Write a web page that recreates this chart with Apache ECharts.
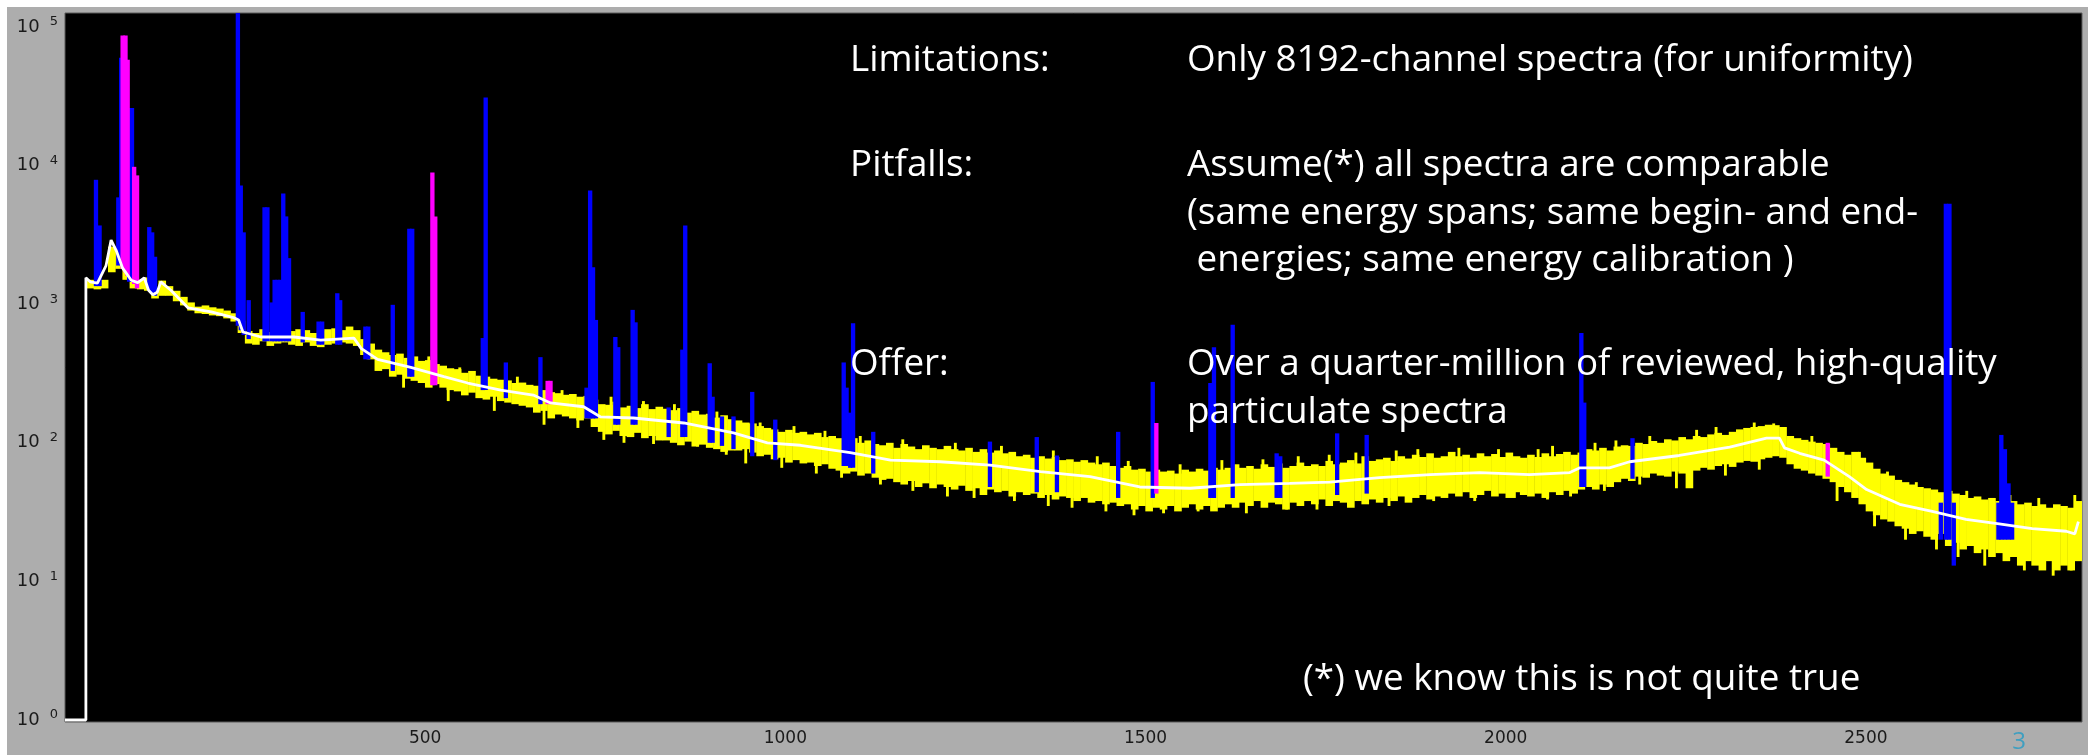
<!DOCTYPE html>
<html><head><meta charset="utf-8">
<script src="https://cdn.jsdelivr.net/npm/echarts@6/dist/echarts.min.js"></script>
<style>
html,body{margin:0;padding:0;background:#fff;width:2093px;height:755px;overflow:hidden}
#panel{position:absolute;left:7px;top:7px;width:2081px;height:748px;background:#adadad}
#chart{position:absolute;left:0;top:0;width:2093px;height:755px}
</style></head><body>
<div id="panel"></div><div id="chart"></div>
<script>
// ---------------- data ----------------
// yellow spectrum envelope, 10 keV bins starting at 30 keV
const binStart = 30, binStep = 10;
const yellowHi = [
 1500,1460,1500,2600,2500,1900,1550,1500,1560,1300,
 1480,1350,1250,1130,1030,960,980,950,930,900,
 860,760,640,620,660,630,650,620,640,660,
 650,620,640,660,670,650,690,650,560,520,
 470,450,430,440,410,420,390,395,370,360,
 345,340,320,330,305,300,290,285,282,270,
 272,262,258,240,232,228,222,225,215,218,
 205,190,188,198,180,185,178,190,175,182,
 176,172,178,165,170,160,162,152,158,148,
 145,140,138,132,128,125,120,124,118,120,
 115,118,110,112,108,104,108,100,104,98,
 96,100,92,98,94,90,96,92,90,95,
 90,88,92,86,90,85,88,84,86,80,
 82,78,80,77,79,75,76,73,75,72,
 70,72,68,66,68,64,65,62,64,62,
 63,60,64,62,65,63,66,64,66,70,
 66,68,65,70,67,71,66,68,72,68,
 70,68,74,70,72,75,71,80,74,76,
 78,74,80,77,82,79,84,78,80,86,
 80,82,78,84,80,83,79,85,80,78,
 82,79,84,80,83,86,82,85,90,88,
 92,88,94,96,95,100,98,103,100,106,
 104,110,106,112,110,115,118,114,120,125,
 128,130,132,135,134,130,112,108,105,102,
 100,98,92,86,82,86,78,72,65,60,
 58,54,52,50,48,47,46,44,45,43,
 42,40,41,39,40,38,37,38,36,37,
 35,36,34,36,35,34,38
];
const yellowLo = [
 1300,1280,1300,1700,1800,1500,1300,1280,1250,1100,
 1150,1150,1050,980,900,860,850,830,820,790,
 750,620,520,510,540,500,520,530,510,500,
 530,500,490,510,520,530,520,500,430,400,
 330,340,300,310,290,280,270,250,265,250,
 240,235,220,230,210,205,215,200,195,190,
 185,180,165,170,150,160,155,150,145,150,
 130,120,115,122,112,110,118,108,112,104,
 104,100,96,102,94,97,92,90,86,88,
 88,90,85,80,82,76,78,72,75,71,
 72,68,70,65,63,60,62,58,60,56,
 54,55,52,50,53,48,51,47,50,48,
 46,49,45,47,42,46,44,45,41,44,
 42,43,40,42,39,41,40,38,40,37,
 38,36,37,35,36,33,35,32,34,33,
 35,32,34,36,33,35,32,34,36,34,
 37,35,38,34,37,36,33,37,35,38,
 36,39,35,38,37,34,38,36,39,37,
 40,38,41,37,40,42,39,41,40,43,
 41,44,40,42,45,41,43,40,44,42,
 41,43,40,44,42,45,43,46,48,46,
 50,48,52,55,53,57,56,60,58,57,
 62,60,47,63,66,64,68,70,67,72,
 74,73,76,78,80,78,70,65,63,60,
 58,55,52,48,44,40,36,32,30,28,
 27,25,24,22,23,21,20,22,18,19,
 17,18,16,17,15,16,14,15,13,14,
 13,12,14,12,13,12,14
];
// narrow single-channel excursions of the yellow spectrum
const spikeKeV = [455,505,548,628,690,758,803,846,905,965,1012,1055,1104,1163,1236,1300,1372,1433,1476,1548,1606,1663,1712,1755,1792,1848,1878,1935,1990,2045,2065,2124,2153,2200,2265,2292,2345,2372,2425,2491,2530,2570,2640,2700,2740,2790,
  470,532,596,665,712,748,776,817,878,918,945,995,1043,1078,1132,1177,1225,1262,1318,1365,1398,1445,1484,1525,1573,1640,1696,1738,1784,1838,1900,1957,2012,2058,2090,2137,2186,2237,2305,2352,2460,2512,2555,2598,2628,2665,2720,2760,2785];
const spikeLo = [380,330,280,229,189,153,148,140,125,103,96,89,82,75,72,67,61,56,51,47,49,51,51,52,54,57,59,60,60,59,60,66,68,76,86,90,102,108,79,50,39,34,28,25,24,25,
  250,200,170,135,128,105,100,98,94,82,71,66,60,56,50,45,41,40,38,35,34,32,30,31,32,31,33,33,35,35,38,38,40,39,41,45,50,47,58,64,38,25,20,17,15,13,12,11,12];
const spikeHi = [470,420,350,300,240,215,200,190,168,140,132,122,112,106,100,95,88,80,74,70,75,76,80,82,85,88,90,92,90,90,95,100,104,112,124,130,140,138,112,86,62,52,45,42,40,42,
  360,298,248,200,184,156,152,146,132,120,113,98,92,87,77,74,72,70,65,61,59,54,50,47,47,50,51,52,54,56,59,61,60,60,61,66,74,80,92,104,65,44,36,32,29,27,25,23,23];
// smoothed (white) curve
const whiteKeV = [0,29,29,35,45,57,64,71,80,92,101,110,116,122,128,133,147,171,203,234,241,247,272,318,355,401,411,434,480,526,559,605,650,674,720,743,789,859,928,975,1021,1090,1146,1215,1284,1354,1423,1492,1562,1631,1700,1756,1825,1895,1964,2033,2089,2103,2144,2172,2241,2311,2362,2380,2387,2408,2442,2477,2501,2547,2592,2639,2685,2731,2778,2790,2795];
const whiteCounts = [1,1,1550,1450,1420,1900,2900,2450,1820,1490,1430,1550,1260,1170,1220,1450,1260,940,880,800,770,630,580,580,550,570,480,400,350,300,270,240,221,194,182,154,151,139,118,100,96,85,75,73,69,62,57,48,47,50,51,52,56,59,61,59,61,66,66,73,81,93,108,108,92,84,75,57,46,36,32,28,26,24,23,22,27];
// blue peak channels
const blueKeV  = [43,48,74,78,89,93,117,121,125,240,244,248,255,277,281,287,291,295,299,303,307,311,330,352,357,378,382,417,421,455,478,482,580,584,612,660,724,729,733,737,764,768,788,792,838,857,861,895,899,912,928,954,986,1081,1085,1090,1094,1122,1284,1349,1377,1462,1510,1590,1595,1621,1682,1687,1766,1807,2105,2109,2176,2604,2611,2616,2622,2684,2688,2693,2698,2703];
const blueTop  = [7900,3700,5900,60000,26000,26000,3600,3300,2200,200000,7200,3300,1070,5000,5000,1030,1500,1500,1500,6300,4300,2150,880,750,750,1200,1070,690,690,990,3500,3500,570,31000,380,415,250,6600,1850,770,580,490,910,740,180,470,3700,375,215,155,155,233,147,380,250,165,730,120,102,110,81,120,275,270,490,710,84,80,117,114,620,195,108,37,5300,5300,37,37,114,90,51,37];
const blueBase = [1350,1350,1900,2000,1450,1450,1250,1200,1150,700,650,600,560,540,540,540,540,540,540,540,540,540,530,510,510,510,510,400,400,330,300,300,240,240,210,190,150,150,150,150,135,135,135,135,110,110,110,100,100,95,90,80,75,68,68,66,66,60,48,44,44,40,40,40,40,40,40,40,42,43,48,48,55,20,20,20,13,20,20,20,20,20];
// magenta peak channels
const magentaKeV  = [80,84,87,96,100,510,514,670,674,1515,2447];
const magentaTop  = [87000,87000,58000,9800,8500,8900,4300,280,280,139,100];
const magentaBase = [1800,1700,1600,1400,1300,260,260,190,190,43,57];
// axis ticks
const xTickLabels = [500,1000,1500,2000,2500];
const yTickExponents = [0,1,2,3,4,5];
// texts
const txtLimLabel = 'Limitations:';
const txtLim = 'Only 8192-channel spectra (for uniformity)';
const txtPitLabel = 'Pitfalls:';
const txtPit1 = 'Assume(*) all spectra are comparable';
const txtPit2 = '(same energy spans; same begin- and end-';
const txtPit3 = ' energies; same energy calibration )';
const txtOfferLabel = 'Offer:';
const txtOffer1 = 'Over a quarter-million of reviewed, high-quality';
const txtOffer2 = 'particulate spectra';
const txtNote = '(*) we know this is not quite true';
const txtPage = '3';

// ---------------- chart ----------------
const yellowData = yellowHi.map((h, i) => [binStart + binStep * (i + 0.5), yellowLo[i], h]);
const spikeData = spikeKeV.map((k, i) => [k, spikeLo[i], spikeHi[i]]);
const blueData = blueKeV.map((k, i) => [k, blueBase[i], blueTop[i]]);
const magentaData = magentaKeV.map((k, i) => [k, magentaBase[i], magentaTop[i]]);
const whiteData = whiteKeV.map((k, i) => [k, whiteCounts[i]]);

function rectRenderer(halfW, color) {
  return function (params, api) {
    const x = api.value(0), lo = api.value(1), hi = api.value(2);
    const p1 = api.coord([x - halfW, hi]);
    const p2 = api.coord([x + halfW, lo]);
    const cs = params.coordSys;
    const r = echarts.graphic.clipRectByRect(
      { x: p1[0], y: p1[1], width: p2[0] - p1[0], height: p2[1] - p1[1] },
      { x: cs.x, y: cs.y, width: cs.width, height: cs.height });
    return r && { type: 'rect', shape: r, style: { fill: color } };
  };
}

const chart = echarts.init(document.getElementById('chart'), null, { renderer: 'canvas' });
const textFont = '36.8px "Open Sans"';
function t(text, x, y) {
  return { type: 'text', x: x, y: y, z: 100,
    style: { text: text, font: textFont, fill: '#ffffff', verticalAlign: 'middle', align: 'left' } };
}
chart.setOption({
  animation: false,
  backgroundColor: 'transparent',
  grid: { left: 65, right: 11, top: 13, bottom: 33, show: true, backgroundColor: '#000', borderColor: '#5a5a5a', borderWidth: 1 },
  xAxis: {
    type: 'value', min: 0, max: 2800, interval: 500,
    axisLine: { show: false }, axisTick: { show: false }, splitLine: { show: false },
    axisLabel: { margin: 8, color: '#1a1a1a', fontFamily: 'DejaVu Sans', fontSize: 17,
      formatter: v => xTickLabels.includes(v) ? String(v) : '' }
  },
  yAxis: {
    type: 'log', logBase: 10, min: 0.9674, max: 126200,
    axisLine: { show: false }, axisTick: { show: false }, splitLine: { show: false },
    axisLabel: {
      margin: 7, color: '#1a1a1a',
      formatter: v => {
        const l = Math.log10(v), e = Math.round(l);
        if (Math.abs(l - e) > 1e-3 || !yTickExponents.includes(e)) return '';
        return '{b|10}{s|' + e + '}';
      },
      rich: {
        b: { fontFamily: 'DejaVu Sans', fontSize: 18, color: '#1a1a1a', lineHeight: 20 },
        s: { fontFamily: 'DejaVu Sans', fontSize: 13, color: '#1a1a1a', padding: [0, 0, 10, 10], lineHeight: 13 }
      }
    }
  },
  series: [
    { type: 'custom', name: 'spectrum', renderItem: rectRenderer(binStep / 2 + 0.3, '#ffff00'), data: yellowData, z: 2 },
    { type: 'custom', name: 'spectrum spikes', renderItem: rectRenderer(2, '#ffff00'), data: spikeData, z: 2 },
    { type: 'custom', name: 'peaks', renderItem: rectRenderer(3, '#0000ff'), data: blueData, z: 3 },
    { type: 'custom', name: 'marked', renderItem: rectRenderer(3, '#ff00ff'), data: magentaData, z: 4 },
    { type: 'line', name: 'smoothed', data: whiteData, showSymbol: false, symbol: 'none',
      lineStyle: { color: '#ffffff', width: 2.8 }, z: 5 }
  ],
  graphic: [
    t(txtLimLabel, 850, 61), t(txtLim, 1187, 61),
    t(txtPitLabel, 850, 166), t(txtPit1, 1187, 166),
    t(txtPit2, 1187, 214), t(txtPit3, 1187, 261),
    t(txtOfferLabel, 850, 365), t(txtOffer1, 1187, 365),
    t(txtOffer2, 1187, 413),
    t(txtNote, 1303, 680),
    { type: 'text', x: 2019, y: 742, z: 100,
      style: { text: txtPage, font: '24px "Open Sans"', fill: '#3f9fc0', align: 'center', verticalAlign: 'middle' } }
  ]
});
</script>
</body></html>
